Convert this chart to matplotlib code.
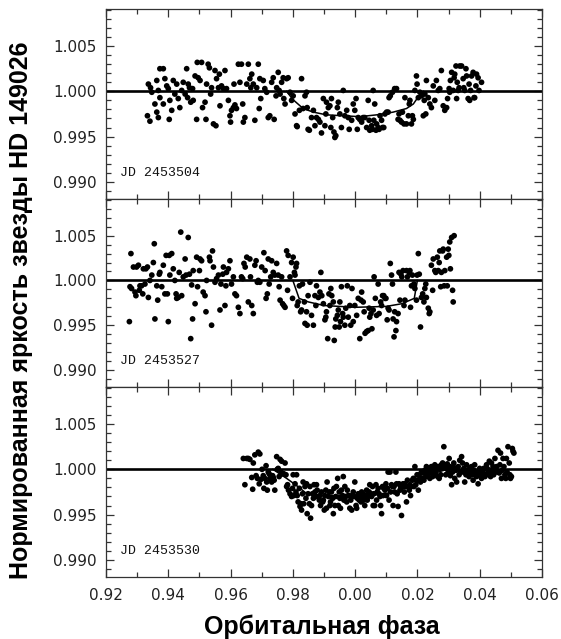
import matplotlib
matplotlib.use("Agg")
import matplotlib.pyplot as plt
from matplotlib.ticker import MultipleLocator, FuncFormatter

# Транзит HD 149026 b: три ночи наблюдений

# --- JD 2453504 ---
phase_504 = [
    0.9333, 0.9341, 0.9336, 0.9343, 0.9347, 0.9357, 0.9363, 0.9368, 0.9373, 0.9384,
    0.9363, 0.9368, 0.9373, 0.9384, 0.9389, 0.9395, 0.9400, 0.9405, 0.9403, 0.9411,
    0.9416, 0.9421, 0.9427, 0.9432, 0.9437, 0.9443, 0.9448, 0.9454, 0.9459, 0.9462,
    0.9464, 0.9468, 0.9472, 0.9478, 0.9480, 0.9486, 0.9491, 0.9493, 0.9496, 0.9502,
    0.9507, 0.9510, 0.9518, 0.9521, 0.9523, 0.9528, 0.9532, 0.9536, 0.9539, 0.9545,
    0.9550, 0.9553, 0.9555, 0.9561, 0.9564, 0.9566, 0.9571, 0.9577, 0.9582, 0.9587,
    0.9593, 0.9598, 0.9600, 0.9603, 0.9609, 0.9611, 0.9614, 0.9619, 0.9625, 0.9630,
    0.9635, 0.9639, 0.9641, 0.9646, 0.9652, 0.9657, 0.9662, 0.9665, 0.9668, 0.9673,
    0.9678, 0.9684, 0.9689, 0.9692, 0.9694, 0.9697, 0.9705, 0.9710, 0.9716, 0.9721,
    0.9726, 0.9732, 0.9737, 0.9740, 0.9746, 0.9748, 0.9753, 0.9756, 0.9759, 0.9764,
    0.9769, 0.9771, 0.9775, 0.9780, 0.9785, 0.9791, 0.9796, 0.9801, 0.9807, 0.9812,
    0.9814, 0.9821, 0.9828, 0.9833, 0.9839, 0.9844, 0.9846, 0.9849, 0.9853, 0.9860,
    0.9866, 0.9871, 0.9876, 0.9882, 0.9887, 0.9892, 0.9898, 0.9903, 0.9906, 0.9908,
    0.9914, 0.9919, 0.9922, 0.9924, 0.9928, 0.9932, 0.9935, 0.9938, 0.9943, 0.9946,
    0.9951, 0.9956, 0.9962, 0.9967, 0.9973, 0.9978, 0.9981, 0.9989, 0.9994, 0.9999,
    1.0003, 1.0007, 1.0010, 1.0015, 1.0021, 1.0026, 1.0031, 1.0037, 1.0042, 1.0045,
    1.0047, 1.0053, 1.0056, 1.0058, 1.0060, 1.0063, 1.0067, 1.0069, 1.0074, 1.0077,
    1.0080, 1.0085, 1.0088, 1.0092, 1.0096, 1.0101, 1.0106, 1.0109, 1.0113, 1.0120,
    1.0127, 1.0133, 1.0138, 1.0141, 1.0144, 1.0149, 1.0152, 1.0157, 1.0160, 1.0165,
    1.0171, 1.0174, 1.0176, 1.0181, 1.0184, 1.0187, 1.0192, 1.0197, 1.0199, 1.0203,
    1.0208, 1.0213, 1.0219, 1.0222, 1.0224, 1.0227, 1.0229, 1.0235, 1.0240, 1.0245,
    1.0251, 1.0256, 1.0261, 1.0267, 1.0272, 1.0277, 1.0283, 1.0288, 1.0294, 1.0297,
    1.0302, 1.0304, 1.0306, 1.0310, 1.0315, 1.0318, 1.0320, 1.0324, 1.0326, 1.0328,
    1.0331, 1.0334, 1.0336, 1.0342, 1.0347, 1.0349, 1.0352, 1.0356, 1.0358, 1.0363,
    1.0366, 1.0368, 1.0371, 1.0374, 1.0379, 1.0382, 1.0384, 1.0388, 1.0390, 1.0395,
    1.0398, 1.0406,
]
flux_504 = [
    0.9973, 0.9967, 1.0008, 1.0004, 0.9999, 0.9986, 0.9977, 0.9971, 1.0025, 1.0025,
    1.0012, 1.0001, 0.9993, 0.9986, 1.0014, 1.0006, 1.0003, 0.9990, 0.9969, 0.9979,
    1.0012, 0.9997, 1.0008, 0.9992, 0.9982, 1.0001, 1.0010, 0.9997, 1.0025, 0.9993,
    1.0008, 1.0004, 0.9988, 1.0003, 0.9990, 1.0017, 0.9969, 1.0032, 1.0015, 1.0012,
    1.0032, 0.9982, 0.9988, 0.9969, 1.0008, 1.0030, 1.0026, 0.9997, 1.0004, 0.9964,
    1.0023, 0.9962, 1.0014, 1.0004, 1.0019, 0.9984, 1.0006, 1.0003, 1.0023, 1.0003,
    0.9990, 0.9973, 0.9966, 0.9979, 0.9982, 1.0008, 0.9985, 0.9981, 1.0030, 1.0010,
    1.0030, 0.9986, 0.9966, 0.9971, 1.0008, 1.0030, 1.0014, 1.0004, 1.0019, 1.0008,
    0.9968, 1.0004, 1.0030, 0.9981, 1.0014, 0.9992, 1.0012, 1.0003, 0.9999, 0.9971,
    0.9973, 1.0010, 1.0015, 0.9969, 0.9995, 1.0004, 1.0021, 1.0001, 0.9997, 1.0010,
    1.0015, 0.9992, 0.9986, 1.0014, 1.0015, 0.9999, 0.9990, 0.9995, 0.9975, 0.9962,
    0.9961, 0.9979, 1.0014, 0.9981, 0.9995, 0.9999, 0.9982, 0.9958, 0.9957, 0.9971,
    0.9979, 0.9962, 0.9971, 0.9969, 0.9966, 0.9954, 0.9992, 0.9962, 0.9975, 0.9988,
    0.9982, 0.9984, 0.9960, 0.9992, 0.9971, 0.9955, 0.9949, 0.9951, 0.9982, 0.9988,
    0.9975, 0.9960, 1.0001, 0.9973, 0.9979, 0.9971, 0.9958, 0.9968, 0.9986, 0.9979,
    0.9992, 0.9958, 0.9971, 0.9969, 0.9966, 0.9971, 0.9971, 0.9960, 0.9990, 0.9968,
    0.9957, 0.9962, 0.9958, 1.0001, 0.9968, 0.9986, 0.9957, 0.9964, 0.9960, 0.9958,
    0.9973, 0.9968, 0.9960, 0.9960, 0.9975, 0.9977, 0.9977, 0.9993, 0.9995, 0.9999,
    1.0003, 1.0003, 0.9969, 0.9975, 0.9968, 0.9966, 0.9977, 0.9964, 0.9993, 0.9964,
    0.9973, 0.9986, 0.9990, 0.9964, 0.9973, 0.9969, 1.0001, 1.0017, 1.0008, 0.9993,
    0.9999, 0.9995, 0.9973, 0.9990, 0.9997, 0.9975, 1.0012, 0.9993, 0.9986, 0.9982,
    1.0006, 0.9990, 1.0012, 1.0001, 1.0003, 1.0023, 0.9984, 0.9979, 0.9982, 0.9992,
    1.0003, 0.9999, 1.0012, 1.0021, 1.0001, 1.0015, 1.0019, 1.0028, 0.9992, 1.0010,
    1.0001, 1.0004, 1.0028, 1.0028, 1.0014, 1.0004, 1.0001, 1.0025, 1.0017, 0.9992,
    1.0008, 0.9990, 1.0001, 1.0017, 1.0021, 0.9993, 0.9993, 1.0006, 1.0019, 1.0015,
    1.0001, 1.0010,
]
model_phase_504 = [0.9780, 0.9800, 0.9833, 0.9866, 0.9908, 0.9962, 1.0015, 1.0069,
                   1.0122, 1.0165, 1.0187, 1.0203, 1.0220]
model_flux_504 = [1.0000, 0.9991, 0.9981, 0.9977, 0.9974, 0.9973, 0.9972, 0.9974,
                  0.9977, 0.9981, 0.9986, 0.9994, 1.0000]

# --- JD 2453527 ---
phase_527 = [
    0.9275, 0.9280, 0.9277, 0.9282, 0.9288, 0.9293, 0.9296, 0.9298, 0.9304, 0.9307,
    0.9309, 0.9314, 0.9318, 0.9320, 0.9325, 0.9328, 0.9333, 0.9336, 0.9341, 0.9347,
    0.9352, 0.9355, 0.9357, 0.9363, 0.9366, 0.9371, 0.9373, 0.9379, 0.9384, 0.9389,
    0.9393, 0.9397, 0.9400, 0.9403, 0.9405, 0.9411, 0.9416, 0.9421, 0.9425, 0.9427,
    0.9432, 0.9435, 0.9440, 0.9443, 0.9448, 0.9454, 0.9457, 0.9464, 0.9468, 0.9472,
    0.9475, 0.9478, 0.9480, 0.9486, 0.9491, 0.9494, 0.9500, 0.9502, 0.9507, 0.9512,
    0.9518, 0.9521, 0.9523, 0.9532, 0.9534, 0.9539, 0.9542, 0.9545, 0.9550, 0.9555,
    0.9561, 0.9566, 0.9569, 0.9575, 0.9577, 0.9582, 0.9585, 0.9587, 0.9593, 0.9598,
    0.9603, 0.9609, 0.9614, 0.9619, 0.9625, 0.9630, 0.9635, 0.9639, 0.9643, 0.9647,
    0.9652, 0.9657, 0.9662, 0.9664, 0.9668, 0.9673, 0.9678, 0.9682, 0.9686, 0.9689,
    0.9694, 0.9700, 0.9707, 0.9711, 0.9714, 0.9718, 0.9721, 0.9724, 0.9729, 0.9732,
    0.9737, 0.9742, 0.9748, 0.9753, 0.9756, 0.9759, 0.9764, 0.9767, 0.9771, 0.9775,
    0.9780, 0.9783, 0.9785, 0.9791, 0.9796, 0.9799, 0.9801, 0.9805, 0.9807, 0.9810,
    0.9812, 0.9814, 0.9817, 0.9821, 0.9825, 0.9828, 0.9831, 0.9837, 0.9839, 0.9844,
    0.9846, 0.9849, 0.9855, 0.9860, 0.9866, 0.9871, 0.9874, 0.9876, 0.9882, 0.9887,
    0.9890, 0.9893, 0.9898, 0.9903, 0.9906, 0.9908, 0.9912, 0.9916, 0.9919, 0.9922,
    0.9925, 0.9930, 0.9933, 0.9936, 0.9938, 0.9943, 0.9946, 0.9949, 0.9951, 0.9953,
    0.9956, 0.9960, 0.9962, 0.9967, 0.9970, 0.9975, 0.9978, 0.9983, 0.9986, 0.9990,
    0.9994, 0.9999, 1.0005, 1.0010, 1.0015, 1.0019, 1.0021, 1.0026, 1.0029, 1.0032,
    1.0037, 1.0042, 1.0045, 1.0047, 1.0051, 1.0054, 1.0058, 1.0061, 1.0065, 1.0069,
    1.0074, 1.0077, 1.0082, 1.0085, 1.0088, 1.0092, 1.0096, 1.0099, 1.0103, 1.0106,
    1.0109, 1.0113, 1.0117, 1.0120, 1.0122, 1.0125, 1.0127, 1.0131, 1.0133, 1.0138,
    1.0141, 1.0144, 1.0147, 1.0150, 1.0154, 1.0157, 1.0160, 1.0165, 1.0168, 1.0174,
    1.0176, 1.0178, 1.0181, 1.0184, 1.0189, 1.0192, 1.0197, 1.0199, 1.0203, 1.0206,
    1.0210, 1.0213, 1.0217, 1.0221, 1.0224, 1.0227, 1.0229, 1.0235, 1.0238, 1.0240,
    1.0245, 1.0249, 1.0251, 1.0256, 1.0259, 1.0264, 1.0267, 1.0270, 1.0272, 1.0275,
    1.0277, 1.0281, 1.0283, 1.0286, 1.0288, 1.0294, 1.0296, 1.0299, 1.0301, 1.0304,
    1.0306, 1.0310, 1.0313, 1.0315, 1.0318,
]
flux_527 = [
    0.9954, 1.0030, 0.9993, 0.9991, 1.0015, 0.9987, 0.9983, 1.0015, 1.0017, 0.9989,
    0.9994, 0.9994, 0.9985, 1.0013, 0.9996, 1.0013, 1.0015, 0.9981, 1.0000, 1.0006,
    1.0020, 1.0041, 0.9957, 0.9994, 0.9978, 1.0007, 1.0009, 0.9993, 1.0017, 0.9985,
    1.0028, 0.9985, 0.9954, 1.0028, 1.0006, 1.0030, 1.0013, 1.0000, 0.9985, 0.9980,
    0.9981, 1.0009, 1.0054, 0.9983, 1.0004, 1.0024, 1.0006, 1.0048, 1.0007, 0.9935,
    0.9995, 0.9957, 1.0011, 0.9974, 1.0026, 0.9993, 1.0011, 1.0024, 1.0022, 0.9987,
    0.9983, 0.9965, 1.0000, 1.0026, 1.0022, 0.9950, 1.0033, 1.0015, 0.9998, 1.0002,
    1.0006, 0.9967, 0.9996, 1.0007, 1.0015, 0.9972, 0.9994, 1.0009, 1.0013, 1.0022,
    0.9996, 1.0004, 0.9985, 0.9983, 0.9970, 0.9963, 1.0004, 1.0002, 1.0019, 1.0015,
    1.0026, 0.9976, 1.0024, 1.0004, 0.9972, 0.9963, 1.0017, 1.0022, 0.9998, 1.0000,
    0.9998, 1.0015, 1.0031, 1.0011, 0.9980, 0.9985, 1.0024, 0.9996, 1.0004, 1.0022,
    1.0009, 1.0006, 1.0019, 1.0006, 0.9993, 0.9978, 1.0004, 0.9974, 0.9972, 0.9970,
    1.0033, 0.9989, 1.0028, 1.0004, 1.0020, 0.9980, 1.0026, 1.0009, 1.0006, 1.0015,
    1.0019, 0.9972, 0.9976, 0.9994, 0.9965, 0.9967, 0.9996, 0.9976, 0.9952, 0.9965,
    0.9950, 0.9983, 0.9998, 0.9961, 0.9950, 0.9983, 0.9972, 0.9994, 0.9981, 0.9987,
    1.0009, 0.9983, 0.9974, 0.9956, 0.9959, 0.9965, 0.9935, 0.9985, 0.9972, 0.9991,
    0.9983, 0.9976, 0.9933, 0.9948, 0.9957, 0.9961, 0.9967, 0.9948, 0.9976, 0.9954,
    0.9993, 0.9963, 0.9959, 0.9950, 0.9969, 0.9994, 0.9959, 0.9972, 0.9950, 0.9991,
    0.9954, 0.9972, 0.9961, 0.9980, 0.9935, 0.9978, 0.9987, 0.9976, 0.9965, 0.9941,
    0.9943, 0.9944, 0.9969, 0.9959, 0.9963, 0.9946, 0.9967, 1.0004, 0.9980, 0.9961,
    0.9996, 0.9963, 0.9976, 0.9972, 0.9983, 0.9983, 0.9980, 0.9980, 0.9956, 0.9969,
    0.9967, 1.0019, 1.0006, 0.9996, 0.9957, 0.9937, 0.9965, 0.9944, 0.9954, 0.9963,
    1.0009, 0.9978, 1.0007, 1.0004, 1.0011, 0.9972, 0.9978, 1.0011, 1.0004, 1.0009,
    1.0011, 0.9970, 0.9994, 1.0006, 0.9996, 0.9991, 0.9978, 1.0006, 1.0030, 1.0007,
    0.9948, 0.9981, 0.9985, 0.9976, 0.9991, 0.9996, 0.9981, 0.9969, 0.9963, 0.9965,
    1.0017, 0.9989, 1.0024, 1.0011, 1.0009, 1.0026, 1.0011, 1.0020, 1.0033, 0.9993,
    1.0009, 1.0033, 1.0035, 0.9994, 1.0011, 1.0026, 0.9994, 1.0035, 1.0028, 1.0043,
    1.0013, 1.0048, 0.9989, 0.9976, 1.0050,
]
model_phase_527 = [0.9800, 0.9820, 0.9850, 0.9900, 1.0000, 1.0100, 1.0150, 1.0190, 1.0200]
model_flux_527 = [1.0000, 0.9980, 0.9976, 0.9972, 0.9970, 0.9971, 0.9974, 0.9980, 1.0000]

# --- JD 2453530 ---
phase_530 = [
    0.9641, 0.9646, 0.9652, 0.9657, 0.9662, 0.9668, 0.9671, 0.9673, 0.9678, 0.9682,
    0.9686, 0.9689, 0.9692, 0.9694, 0.9698, 0.9701, 0.9705, 0.9707, 0.9710, 0.9714,
    0.9716, 0.9718, 0.9721, 0.9724, 0.9726, 0.9729, 0.9732, 0.9735, 0.9737, 0.9740,
    0.9742, 0.9748, 0.9750, 0.9753, 0.9756, 0.9759, 0.9762, 0.9764, 0.9769, 0.9771,
    0.9775, 0.9778, 0.9780, 0.9783, 0.9786, 0.9791, 0.9796, 0.9799, 0.9801, 0.9803,
    0.9807, 0.9810, 0.9812, 0.9814, 0.9817, 0.9821, 0.9823, 0.9826, 0.9828, 0.9831,
    0.9833, 0.9835, 0.9839, 0.9842, 0.9844, 0.9846, 0.9849, 0.9853, 0.9855, 0.9857,
    0.9860, 0.9863, 0.9866, 0.9868, 0.9871, 0.9874, 0.9876, 0.9878, 0.9882, 0.9885,
    0.9887, 0.9889, 0.9892, 0.9896, 0.9898, 0.9901, 0.9903, 0.9906, 0.9908, 0.9910,
    0.9914, 0.9917, 0.9919, 0.9921, 0.9924, 0.9928, 0.9930, 0.9932, 0.9935, 0.9938,
    0.9940, 0.9944, 0.9946, 0.9949, 0.9951, 0.9953, 0.9956, 0.9960, 0.9962, 0.9964,
    0.9967, 0.9970, 0.9973, 0.9975, 0.9978, 0.9981, 0.9983, 0.9986, 0.9989, 0.9992,
    0.9994, 0.9997, 0.9999, 1.0003, 1.0005, 1.0007, 1.0010, 1.0013, 1.0015, 1.0019,
    1.0021, 1.0024, 1.0026, 1.0028, 1.0031, 1.0035, 1.0037, 1.0039, 1.0042, 1.0045,
    1.0047, 1.0051, 1.0053, 1.0056, 1.0058, 1.0060, 1.0063, 1.0067, 1.0069, 1.0071,
    1.0074, 1.0077, 1.0080, 1.0082, 1.0085, 1.0088, 1.0090, 1.0092, 1.0096, 1.0099,
    1.0101, 1.0104, 1.0106, 1.0109, 1.0112, 1.0114, 1.0117, 1.0120, 1.0122, 1.0125,
    1.0127, 1.0131, 1.0133, 1.0135, 1.0138, 1.0141, 1.0144, 1.0146, 1.0149, 1.0152,
    1.0154, 1.0158, 1.0160, 1.0163, 1.0165, 1.0168, 1.0171, 1.0174, 1.0176, 1.0178,
    1.0181, 1.0184, 1.0187, 1.0189, 1.0192, 1.0195, 1.0197, 1.0199, 1.0203, 1.0206,
    1.0208, 1.0210, 1.0213, 1.0217, 1.0219, 1.0221, 1.0224, 1.0227, 1.0229, 1.0231,
    1.0235, 1.0238, 1.0240, 1.0242, 1.0245, 1.0249, 1.0251, 1.0253, 1.0256, 1.0259,
    1.0261, 1.0265, 1.0267, 1.0270, 1.0272, 1.0275, 1.0277, 1.0281, 1.0283, 1.0285,
    1.0288, 1.0291, 1.0294, 1.0296, 1.0299, 1.0302, 1.0304, 1.0306, 1.0310, 1.0313,
    1.0315, 1.0317, 1.0320, 1.0324, 1.0326, 1.0328, 1.0331, 1.0334, 1.0336, 1.0338,
    1.0342, 1.0345, 1.0347, 1.0349, 1.0352, 1.0356, 1.0358, 1.0360, 1.0363, 1.0366,
    1.0368, 1.0371, 1.0374, 1.0377, 1.0379, 1.0381, 1.0384, 1.0388, 1.0390, 1.0392,
    1.0395, 1.0398, 1.0400, 1.0403, 1.0406, 1.0409, 1.0411, 1.0413, 1.0417, 1.0420,
    1.0422, 1.0424, 1.0427, 1.0431, 1.0433, 1.0435, 1.0438, 1.0441, 1.0443, 1.0445,
    1.0449, 1.0452, 1.0454, 1.0456, 1.0459, 1.0463, 1.0465, 1.0467, 1.0470, 1.0473,
    1.0475, 1.0478, 1.0481, 1.0484, 1.0486, 1.0488, 1.0491, 1.0495, 1.0497, 1.0499,
    1.0502, 1.0505, 1.0507, 1.0510,
]
flux_530 = [
    1.0012, 0.9983, 1.0012, 1.0012, 1.0011, 0.9991, 0.9978, 1.0007, 1.0016, 0.9993,
    0.9990, 1.0019, 0.9984, 1.0017, 0.9989, 1.0000, 0.9993, 0.9979, 0.9990, 1.0004,
    0.9986, 0.9977, 0.9997, 0.9995, 0.9990, 0.9993, 0.9986, 0.9993, 0.9991, 0.9988,
    0.9977, 1.0014, 1.0000, 1.0001, 0.9992, 1.0011, 0.9997, 1.0009, 0.9995, 0.9995,
    1.0007, 0.9994, 0.9981, 0.9983, 0.9977, 0.9973, 0.9970, 0.9979, 0.9994, 0.9971,
    0.9984, 0.9975, 0.9994, 0.9971, 0.9964, 0.9979, 0.9959, 0.9962, 0.9955, 0.9973,
    0.9986, 0.9962, 0.9981, 0.9968, 0.9984, 0.9951, 0.9973, 0.9962, 0.9981, 0.9946,
    0.9960, 0.9973, 0.9968, 0.9983, 0.9975, 0.9970, 0.9983, 0.9977, 0.9970, 0.9966,
    0.9971, 0.9960, 0.9975, 0.9964, 0.9966, 0.9955, 0.9971, 0.9977, 0.9957, 0.9986,
    0.9970, 0.9975, 0.9960, 0.9964, 0.9975, 0.9968, 0.9951, 0.9979, 0.9960, 0.9970,
    0.9981, 0.9990, 0.9960, 0.9975, 0.9968, 0.9957, 0.9977, 0.9971, 0.9992, 0.9966,
    0.9981, 0.9970, 0.9964, 0.9977, 0.9971, 0.9971, 0.9957, 0.9966, 0.9955, 0.9971,
    0.9975, 0.9970, 0.9986, 0.9960, 0.9957, 0.9968, 0.9973, 0.9966, 0.9971, 0.9964,
    0.9975, 0.9970, 0.9973, 0.9966, 0.9960, 0.9971, 0.9977, 0.9966, 0.9970, 0.9975,
    0.9983, 0.9973, 0.9970, 0.9981, 0.9960, 0.9973, 0.9960, 0.9983, 0.9966, 0.9975,
    0.9979, 0.9973, 0.9970, 0.9960, 0.9951, 0.9981, 0.9971, 0.9979, 0.9977, 0.9984,
    0.9971, 0.9979, 0.9997, 0.9966, 0.9997, 0.9975, 0.9983, 0.9981, 0.9960, 0.9981,
    0.9975, 0.9997, 0.9984, 0.9973, 0.9959, 0.9984, 0.9977, 0.9981, 0.9949, 0.9981,
    0.9984, 0.9975, 0.9984, 0.9981, 0.9964, 0.9988, 0.9981, 0.9977, 0.9983, 0.9971,
    0.9981, 0.9988, 0.9990, 0.9981, 1.0003, 0.9983, 0.9988, 0.9994, 0.9977, 0.9994,
    0.9990, 0.9986, 0.9997, 0.9990, 0.9996, 0.9988, 0.9999, 0.9992, 1.0003, 0.9994,
    1.0001, 0.9996, 0.9990, 0.9999, 1.0003, 0.9992, 0.9997, 1.0003, 1.0005, 0.9994,
    0.9999, 0.9992, 1.0003, 0.9990, 1.0001, 0.9994, 1.0005, 1.0007, 1.0003, 1.0025,
    1.0005, 0.9994, 1.0001, 1.0006, 0.9997, 1.0012, 1.0003, 0.9993, 0.9983, 0.9997,
    1.0003, 1.0007, 0.9990, 0.9999, 0.9986, 1.0001, 1.0003, 0.9994, 1.0010, 0.9997,
    1.0014, 1.0007, 0.9997, 1.0001, 0.9986, 0.9994, 1.0005, 0.9999, 0.9994, 0.9992,
    1.0001, 0.9997, 1.0003, 0.9994, 0.9988, 0.9999, 1.0005, 0.9996, 0.9992, 0.9997,
    0.9984, 0.9994, 1.0001, 0.9996, 0.9990, 0.9994, 0.9997, 1.0001, 0.9992, 0.9994,
    1.0005, 1.0001, 0.9996, 1.0009, 0.9999, 0.9992, 1.0007, 0.9997, 1.0003, 0.9994,
    1.0012, 1.0001, 1.0003, 0.9997, 1.0021, 0.9996, 1.0005, 1.0018, 0.9990, 0.9999,
    1.0012, 1.0003, 0.9994, 0.9990, 1.0012, 0.9997, 1.0025, 1.0007, 0.9994, 0.9990,
    0.9992, 1.0023, 1.0020, 1.0018,
]
model_phase_530 = [0.9736, 0.9780, 0.9820, 0.9845, 0.9900, 1.0000, 1.0080, 1.0140,
                   1.0186, 1.0240, 1.0295]
model_flux_530 = [1.0000, 0.9990, 0.9980, 0.9973, 0.9971, 0.9971, 0.9972, 0.9976,
                  0.9983, 0.9994, 1.0000]

nights = [
    ("JD 2453504", phase_504, flux_504, model_phase_504, model_flux_504),
    ("JD 2453527", phase_527, flux_527, model_phase_527, model_flux_527),
    ("JD 2453530", phase_530, flux_530, model_phase_530, model_flux_530),
]

plt.rcParams['font.family'] = ['DejaVu Sans']

fig = plt.figure(figsize=(5.61, 6.39), dpi=100)

left, width = 0.189, 0.777
bottoms = [0.6886, 0.3944, 0.0970]
heights = [0.2973, 0.2942, 0.2974]


def phase_fmt(x, pos):
    return f"{round(x, 4) % 1:.2f}"


axes = []
for i, (label, ph, fl, mph, mfl) in enumerate(nights):
    ax = fig.add_axes([left, bottoms[i], width, heights[i]])
    ax.axhline(1.0, color='black', lw=1.9, zorder=2)
    ax.scatter(ph, fl, s=17, color='black', edgecolors='none', zorder=3)
    ax.plot(mph, mfl, color='black', lw=1.1, zorder=4)

    ax.set_xlim(0.92, 1.06)
    ax.set_ylim(0.9881, 1.0091)
    ax.xaxis.set_major_locator(MultipleLocator(0.02))
    ax.xaxis.set_minor_locator(MultipleLocator(0.01))
    ax.yaxis.set_major_locator(MultipleLocator(0.005))
    ax.yaxis.set_minor_locator(MultipleLocator(0.001))
    ax.yaxis.set_major_formatter(FuncFormatter(lambda y, p: f"{y:.3f}"))
    ax.xaxis.set_major_formatter(FuncFormatter(phase_fmt))
    ax.tick_params(which='both', direction='in', top=True, right=True,
                   color='#333333', width=0.9, labelsize=11, labelcolor='#222222')
    ax.tick_params(which='major', length=6)
    ax.tick_params(which='minor', length=3.5)
    for sp in ax.spines.values():
        sp.set_linewidth(0.9)
        sp.set_color('#333333')
    if i < 2:
        ax.tick_params(labelbottom=False)
    else:
        ax.tick_params(axis='x', pad=8)
    ax.tick_params(axis='y', pad=7)

    ax.text(0.032, 0.137, label, transform=ax.transAxes, ha='left', va='center',
            family='Liberation Mono', fontsize=9.5, color='#111111')
    axes.append(ax)

fig.text(0.038, 0.515, 'Нормированная яркость звезды HD 149026', rotation=90,
         ha='center', va='center', family='Liberation Sans', fontweight='bold',
         fontsize=18)
fig.text(0.574, 0.0075, 'Орбитальная фаза', ha='center', va='baseline',
         family='Liberation Sans', fontweight='bold', fontsize=18)

fig.savefig('out.png', dpi=100)
